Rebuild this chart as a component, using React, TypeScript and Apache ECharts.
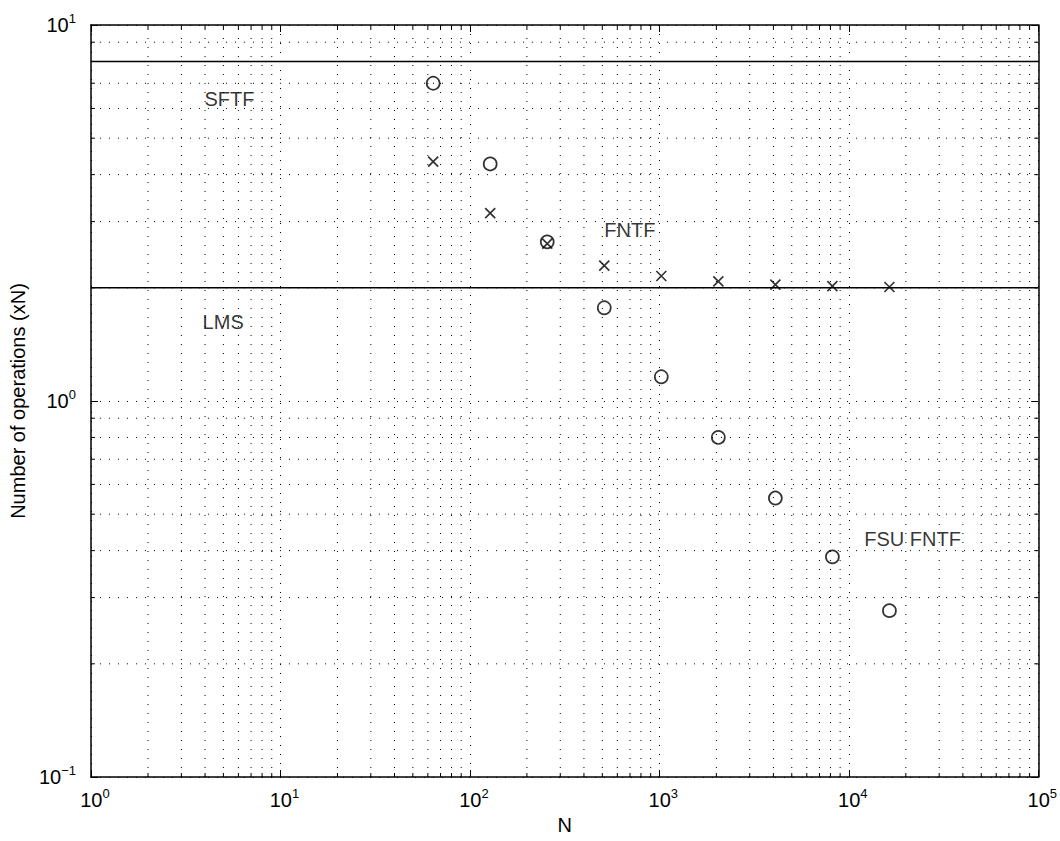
import React, { useEffect, useRef } from "react";
import * as echarts from "echarts";

// Filter length N (x) and operation counts per sample (y, in multiples of N)
const N_VALUES = [64, 128, 256, 512, 1024, 2048, 4096, 8192, 16384];
const FSU_FNTF_OPS = [7.0, 4.27, 2.65, 1.77, 1.16, 0.8, 0.552, 0.385, 0.277];
const FNTF_OPS = [4.33, 3.16, 2.62, 2.29, 2.15, 2.08, 2.04, 2.02, 2.01];
const SFTF_LEVEL = 8;
const LMS_LEVEL = 2;
const X_RANGE = [1, 100000];
const Y_RANGE = [0.1, 10];

// Decades and in-decade multipliers for the log grid (minor ticks at 2..9 x decade)
const X_DECADES = [1, 10, 100, 1000, 10000];
const Y_DECADES = [0.1, 1];
const MINOR_MULTIPLIERS = [2, 3, 4, 5, 6, 7, 8, 9];

// Annotation texts and their anchors (data coordinates, left edge / middle)
const ANNOTATIONS = [
  { name: "SFTF", x: 3.95, y: 6.35 },
  { name: "FNTF", x: 509, y: 2.85 },
  { name: "LMS", x: 3.86, y: 1.62 },
  { name: "FSU FNTF", x: 12000, y: 0.43 },
];

const FONT = "'Liberation Sans', Arial, Helvetica, sans-serif";

const expText = (v: number) => {
  const e = Math.round(Math.log10(v));
  return e < 0 ? "\u2212" + Math.abs(e) : String(e);
};
const yLabel = (v: number) => `{b|10}{s|${expText(v)}}`;
const xLabel = (v: number) => `{p| }{b|10}{s|${expText(v)}}`;

const rich = {
  p: { fontSize: 13, width: 8, fontFamily: FONT, color: "#000" },
  b: { fontSize: 20, fontFamily: FONT, color: "#000", lineHeight: 26 },
  s: { fontSize: 13, fontFamily: FONT, color: "#000", lineHeight: 13, verticalAlign: "top" as const },
};

const DOT = { stroke: "#000", lineWidth: 1, lineDash: [1, 8] };
const dotted = { color: "#000", width: 1, type: [1, 8] as number[] };
const MINOR_TICK = 4;

const minorX: number[] = [];
X_DECADES.forEach((d) => MINOR_MULTIPLIERS.forEach((m) => minorX.push(d * m)));
const minorY: number[] = [];
Y_DECADES.forEach((d) => MINOR_MULTIPLIERS.forEach((m) => minorY.push(+(d * m).toFixed(6))));

export default function App() {
  const ref = useRef<HTMLDivElement>(null);
  useEffect(() => {
    if (!ref.current) return;
    const chart = echarts.init(ref.current, undefined, { renderer: "svg" });
    const axisCommon = {
      type: "log" as const,
      logBase: 10,
      axisLine: { show: true, onZero: false, lineStyle: { color: "#000", width: 1.5 } },
      axisTick: { show: true, inside: true, length: 7, lineStyle: { color: "#000", width: 1 } },
      minorTick: { show: false },
      minorSplitLine: { show: false },
    };
    chart.setOption({
      animation: false,
      backgroundColor: "#fff",
      grid: { left: 85, right: 20, top: 25, bottom: 64, containLabel: false },
      xAxis: [
        {
          ...axisCommon,
          position: "bottom",
          min: X_RANGE[0],
          max: X_RANGE[1],
          splitLine: { show: true, lineStyle: dotted },
          axisLabel: { formatter: xLabel, rich, margin: 10 },
          name: "N",
          nameLocation: "middle",
          nameGap: 38,
          nameTextStyle: { fontSize: 20, fontFamily: FONT, color: "#000" },
        },
        {
          ...axisCommon,
          position: "top",
          min: X_RANGE[0],
          max: X_RANGE[1],
          splitLine: { show: false },
          axisLabel: { show: false },
        },
      ],
      yAxis: [
        {
          ...axisCommon,
          position: "left",
          min: Y_RANGE[0],
          max: Y_RANGE[1],
          splitLine: { show: true, lineStyle: dotted },
          axisLabel: { formatter: yLabel, rich, margin: 15 },
          name: "Number of operations (xN)",
          nameLocation: "middle",
          nameGap: 57,
          nameTextStyle: { fontSize: 20, fontFamily: FONT, color: "#000" },
        },
        {
          ...axisCommon,
          position: "right",
          min: Y_RANGE[0],
          max: Y_RANGE[1],
          splitLine: { show: false },
          axisLabel: { show: false },
        },
      ],
      series: [
        {
          name: "minorX",
          type: "custom",
          silent: true,
          clip: false,
          z: 1,
          data: minorX.map((v) => [v, Y_RANGE[0]]),
          encode: { x: 0, y: 1 },
          renderItem: (_params: any, api: any) => {
            const v = api.value(0);
            const b = api.coord([v, Y_RANGE[0]]);
            const t = api.coord([v, Y_RANGE[1]]);
            return {
              type: "group",
              children: [
                { type: "line", shape: { x1: b[0], y1: b[1], x2: t[0], y2: t[1] }, style: { ...DOT, fill: null } },
                { type: "line", shape: { x1: b[0], y1: b[1], x2: b[0], y2: b[1] - MINOR_TICK }, style: { stroke: "#000", lineWidth: 1 } },
                { type: "line", shape: { x1: t[0], y1: t[1], x2: t[0], y2: t[1] + MINOR_TICK }, style: { stroke: "#000", lineWidth: 1 } },
              ],
            };
          },
        },
        {
          name: "minorY",
          type: "custom",
          silent: true,
          clip: false,
          z: 1,
          data: minorY.map((v) => [X_RANGE[0], v]),
          encode: { x: 0, y: 1 },
          renderItem: (_params: any, api: any) => {
            const v = api.value(1);
            const l = api.coord([X_RANGE[0], v]);
            const r = api.coord([X_RANGE[1], v]);
            return {
              type: "group",
              children: [
                { type: "line", shape: { x1: l[0], y1: l[1], x2: r[0], y2: r[1] }, style: { ...DOT, fill: null } },
                { type: "line", shape: { x1: l[0], y1: l[1], x2: l[0] + MINOR_TICK, y2: l[1] }, style: { stroke: "#000", lineWidth: 1 } },
                { type: "line", shape: { x1: r[0], y1: r[1], x2: r[0] - MINOR_TICK, y2: r[1] }, style: { stroke: "#000", lineWidth: 1 } },
              ],
            };
          },
        },
        {
          name: "SFTF",
          type: "line",
          data: [
            [X_RANGE[0], SFTF_LEVEL],
            [X_RANGE[1], SFTF_LEVEL],
          ],
          showSymbol: false,
          symbol: "none",
          lineStyle: { color: "#000", width: 1.5 },
          z: 3,
        },
        {
          name: "LMS",
          type: "line",
          data: [
            [X_RANGE[0], LMS_LEVEL],
            [X_RANGE[1], LMS_LEVEL],
          ],
          showSymbol: false,
          symbol: "none",
          lineStyle: { color: "#000", width: 1.5 },
          z: 3,
        },
        {
          name: "FSU FNTF",
          type: "scatter",
          data: N_VALUES.map((n, i) => [n, FSU_FNTF_OPS[i]]),
          symbol: "circle",
          symbolSize: 13,
          itemStyle: { color: "rgba(0,0,0,0)", borderColor: "#000", borderWidth: 1.7 },
          z: 4,
        },
        {
          name: "FNTF",
          type: "scatter",
          data: N_VALUES.map((n, i) => [n, FNTF_OPS[i]]),
          symbol: "path://M0,0L10,10M10,0L0,10",
          symbolSize: 10,
          itemStyle: { color: "none", borderColor: "#000", borderWidth: 1.7 },
          z: 4,
        },
        {
          name: "labels",
          type: "scatter",
          data: ANNOTATIONS.map((a) => ({ name: a.name, value: [a.x, a.y] })),
          symbol: "rect",
          symbolSize: 1,
          itemStyle: { color: "rgba(0,0,0,0)" },
          silent: true,
          label: {
            show: true,
            position: "right",
            distance: 0,
            formatter: (p: any) => p.name,
            fontSize: 20,
            fontFamily: FONT,
            color: "#000",
            textBorderWidth: 0,
          },
          z: 5,
        },
      ],
    });
    return () => chart.dispose();
  }, []);
  return (
    <div
      ref={ref}
      style={{ position: "fixed", left: 0, top: 0, width: 1060, height: 841, background: "#fff" }}
    />
  );
}
